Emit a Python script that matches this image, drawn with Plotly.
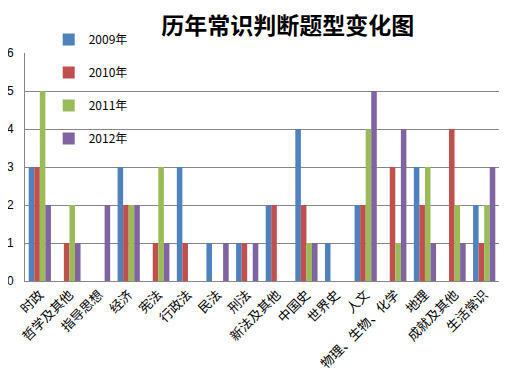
import plotly.graph_objects as go

categories = ["时政", "哲学及其他", "指导思想", "经济", "宪法", "行政法", "民法", "刑法",
              "新法及其他", "中国史", "世界史", "人文", "物理、生物、化学", "地理", "成就及其他", "生活常识"]
series_names = ["2009年", "2010年", "2011年", "2012年"]
v2009 = [3, 0, 0, 3, 0, 3, 1, 1, 2, 4, 1, 2, 0, 3, 0, 2]
v2010 = [3, 1, 0, 2, 1, 1, 0, 1, 2, 2, 0, 2, 3, 2, 4, 1]
v2011 = [5, 2, 0, 2, 3, 0, 0, 0, 0, 1, 0, 4, 1, 3, 2, 2]
v2012 = [2, 1, 2, 2, 1, 0, 1, 1, 0, 1, 0, 5, 4, 1, 1, 3]
colors = ["#4F81BD", "#C0504D", "#9BBB59", "#8064A2"]

W, H = 505, 377

fig = go.Figure()
for i, (name, vals) in enumerate(zip(series_names, [v2009, v2010, v2011, v2012])):
    fig.add_trace(go.Bar(x=categories, y=vals, name=name, marker_color=colors[i],
                         marker_line_width=0, legendgroup=name))

fig.update_layout(
    width=W, height=H,
    paper_bgcolor="white", plot_bgcolor="white",
    margin=dict(l=17, r=14, t=45, b=104, autoexpand=False),
    barmode="group", bargap=0.25, bargroupgap=0,
    title=dict(text="<b>历年常识判断题型变化图</b>", x=0.554, xanchor="center",
               y=1 - 18 / H, yanchor="middle", yref="container",
               font=dict(family="Noto Sans CJK SC", size=23, color="black")),
    legend=dict(x=0.05, y=1 - 17 / H, xanchor="left", yanchor="top", yref="container",
                tracegroupgap=14,
                bgcolor="rgba(0,0,0,0)", font=dict(family="Noto Sans CJK SC", size=12, color="black"),
                itemwidth=30),
    font=dict(family="Noto Sans CJK SC", color="black"),
    xaxis=dict(tickangle=-45, tickfont=dict(family="Noto Sans CJK SC", size=13, color="black"),
               showline=True, linecolor="#868686", linewidth=1, ticks="", showgrid=False,
               automargin=False),
    yaxis=dict(range=[0, 6], dtick=1, showgrid=True, gridcolor="#868686", gridwidth=1,
               showline=True, linecolor="#868686", linewidth=1, zeroline=False, automargin=False,
               ticklabelstandoff=8,
               tickfont=dict(family="Liberation Sans", size=12, color="black"), ticks=""),
)
fig.write_html("out.html")
